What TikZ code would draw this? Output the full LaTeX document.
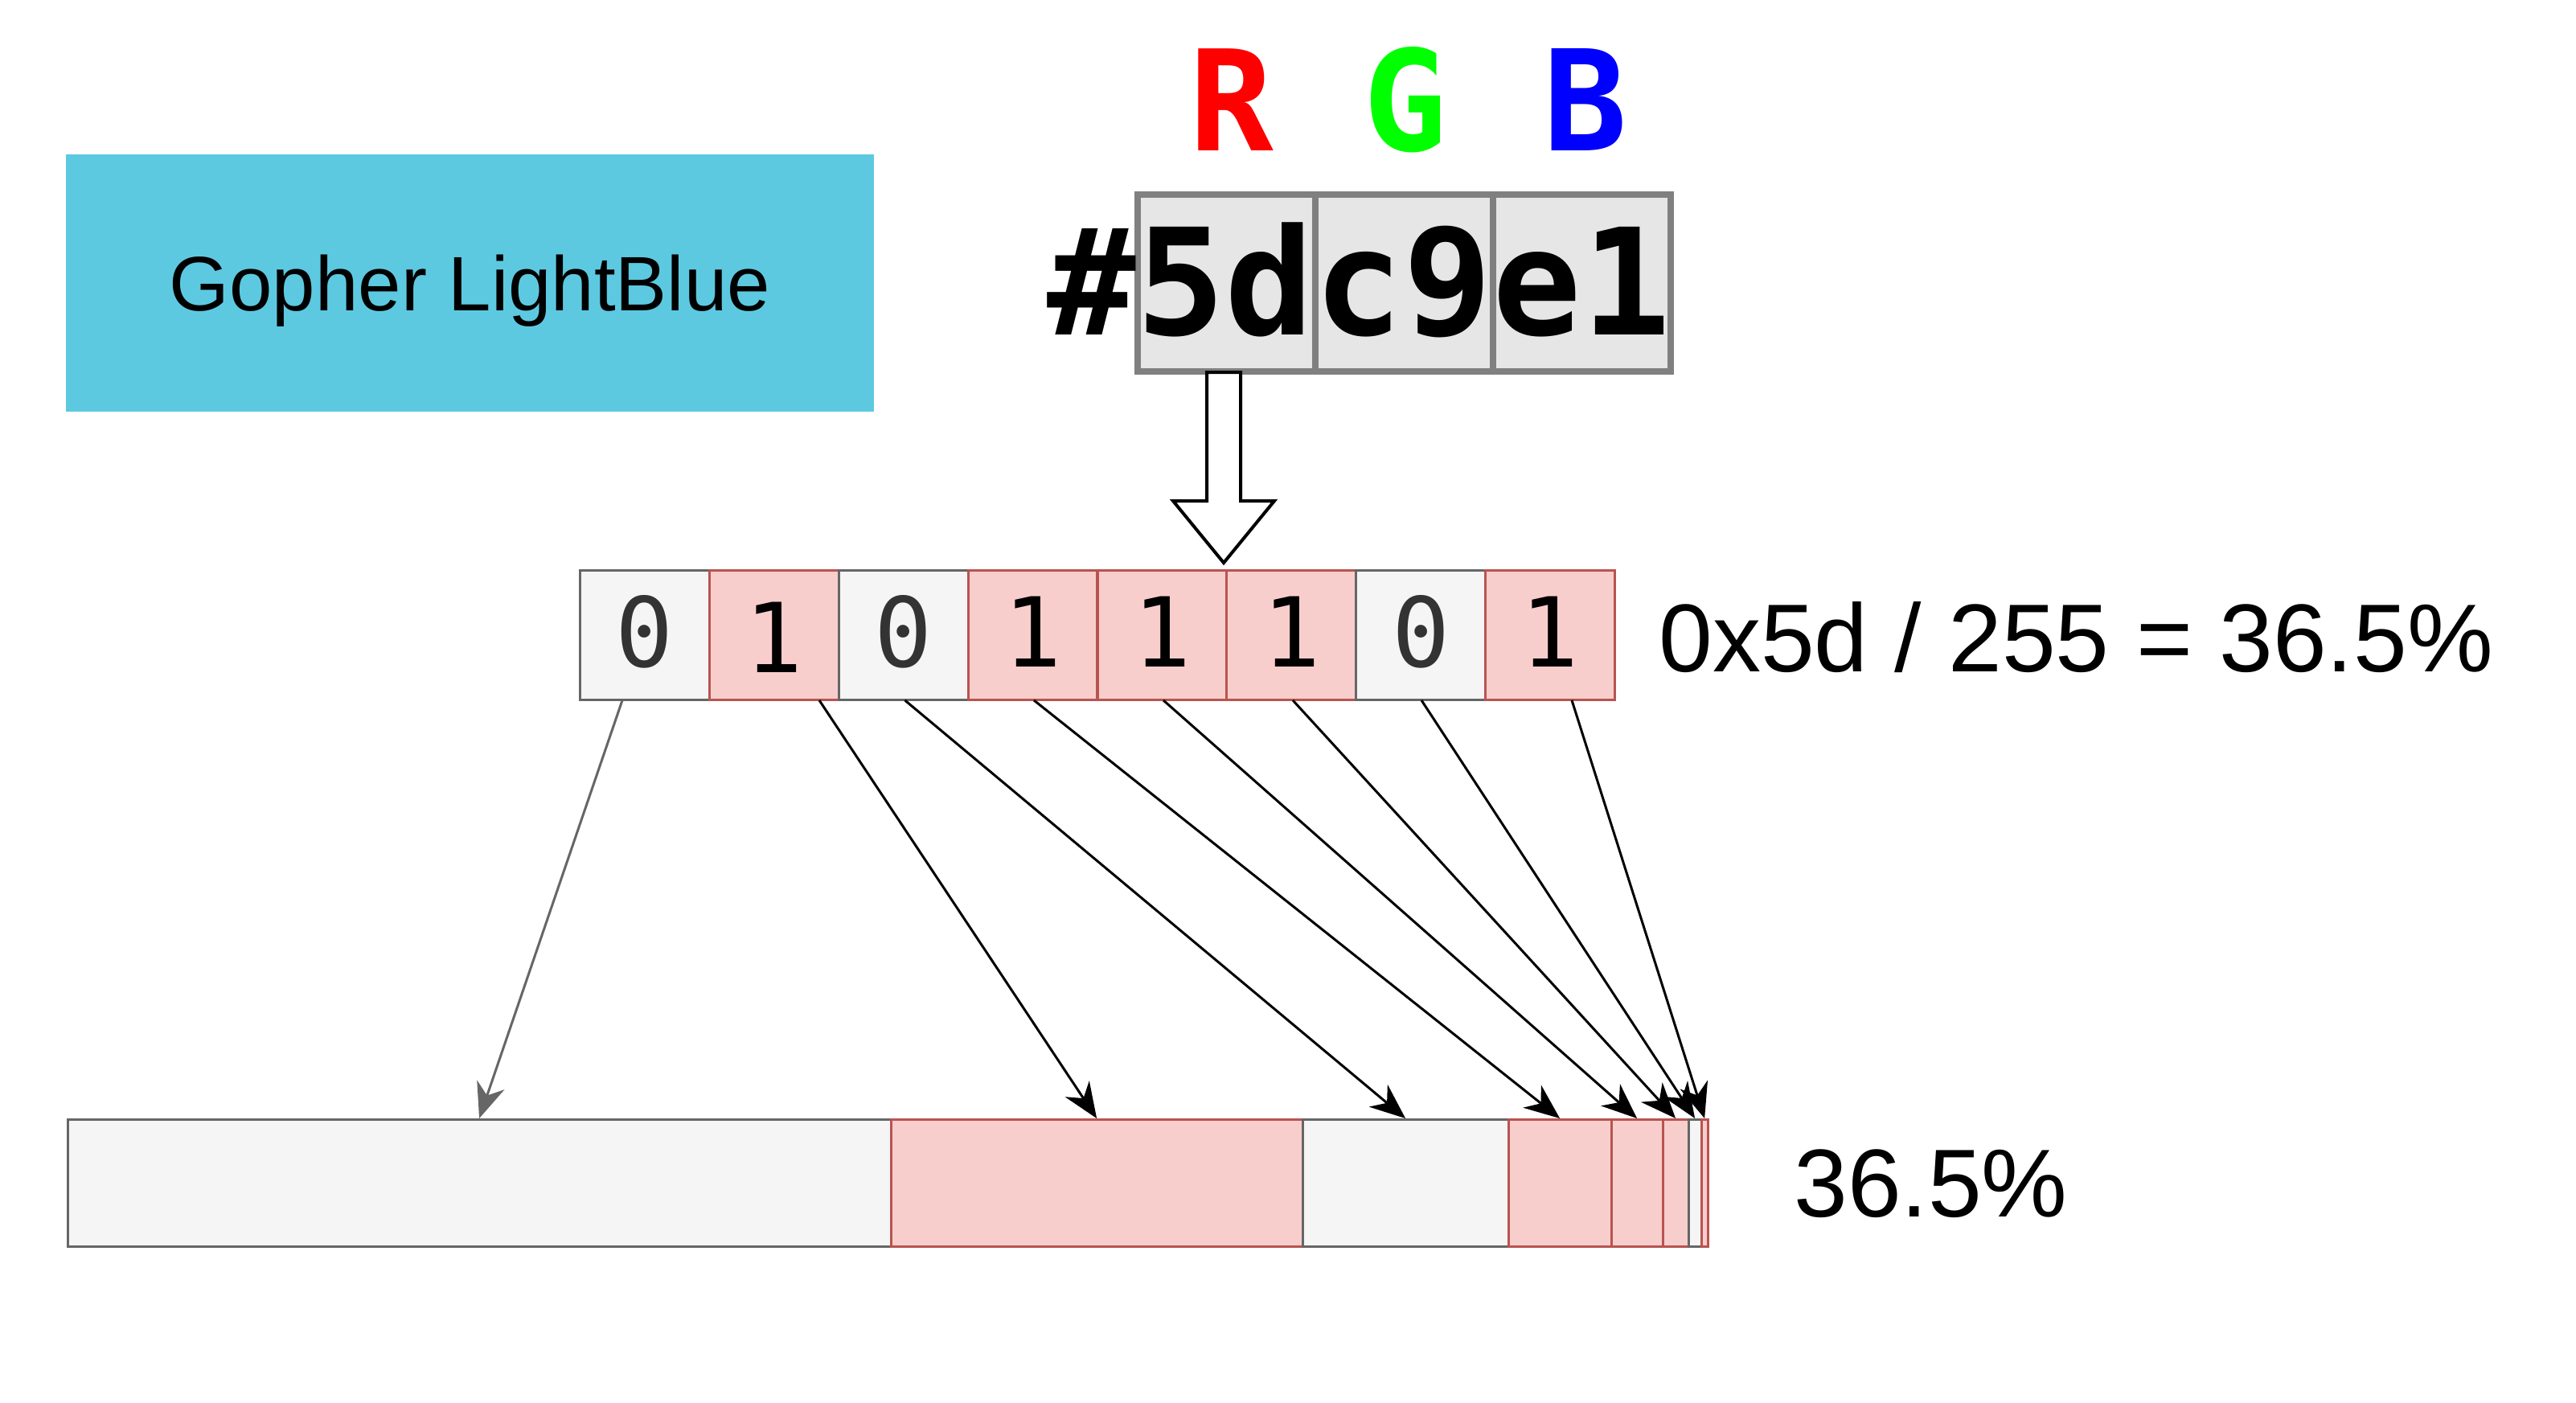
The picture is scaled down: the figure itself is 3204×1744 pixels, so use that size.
\documentclass[tikz,border=0pt]{standalone}
\usepackage{fontspec}
\setmainfont{Liberation Sans}
\newfontfamily\monofont{DejaVu Sans Mono}
\usetikzlibrary{arrows.meta}
\definecolor{gopher}{HTML}{5DC9E1}
\definecolor{hexfill}{HTML}{E6E6E6}
\definecolor{hexline}{HTML}{808080}
\definecolor{zfill}{HTML}{F5F5F5}
\definecolor{zline}{HTML}{666666}
\definecolor{ztext}{HTML}{333333}
\definecolor{ofill}{HTML}{F8CECC}
\definecolor{oline}{HTML}{B85450}
\definecolor{rr}{HTML}{FF0000}
\definecolor{gg}{HTML}{00FF00}
\definecolor{bb}{HTML}{0000FF}
\begin{document}
\begin{tikzpicture}[x=0.5pt,y=-0.5pt,
  hexbox/.style={draw=hexline,fill=hexfill,line width=4pt,minimum width=110.5pt,minimum height=110pt,inner sep=0pt,anchor=center},
  bitcell/.style={line width=1.6pt,minimum width=80.44pt,minimum height=80.5pt,inner sep=0pt,anchor=center},
  zerocell/.style={bitcell,draw=zline,fill=zfill},
  onecell/.style={bitcell,draw=oline,fill=ofill},
  bittext/.style={font=\monofont\fontsize{60pt}{60pt}\selectfont,inner sep=0pt,anchor=base},
  zerotext/.style={bittext,text=ztext},
  onetext/.style={bittext,text=black},
  seg/.style={line width=1.6pt,minimum height=79pt,inner sep=0pt,anchor=north west},
  zeroseg/.style={seg,draw=zline,fill=zfill},
  oneseg/.style={seg,draw=oline,fill=ofill},
  conn/.style={line width=1.5pt,black,-{Stealth[length=22pt,width=18pt,inset=7pt]}},
  rgbletter/.style={font=\monofont\bfseries\fontsize{87pt}{87pt}\selectfont,inner sep=0pt,anchor=base},
  biglabel/.style={font=\fontsize{60pt}{60pt}\selectfont,inner sep=0pt,anchor=base west}
]
\useasboundingbox (0,0) rectangle (3204,1744);
\fill[white] (0,0) rectangle (3204,1744);

% Gopher light blue swatch
\node[fill=gopher,minimum width=502.5pt,minimum height=160pt,inner sep=0pt,text depth=0pt,
      font=\fontsize{48pt}{48pt}\selectfont] (swatch) at (584.5,352) {Gopher LightBlue};

% RGB letters
\node[rgbletter,text=rr] (lr) at (1532,188) {R};
\node[rgbletter,text=gg] (lg) at (1748,188) {G};
\node[rgbletter,text=bb] (lb) at (1972,188) {B};

% hex boxes
\node[hexbox] (h1) at (1525.5,352) {};
\node[hexbox] (h2) at (1746.5,352) {};
\node[hexbox] (h3) at (1967.5,352) {};
\node[font=\monofont\bfseries\fontsize{92pt}{92pt}\selectfont,inner sep=0pt,anchor=base west] (hex) at (1302,416) {\#5dc9e1};

% big hollow arrow
\draw[line width=2pt,fill=white,line join=miter]
  (1501,463) -- (1543,463) -- (1543,623) -- (1585,623) -- (1522,700) -- (1459,623) -- (1501,623) -- cycle;

% bit cells
\node[zerocell] (b0) at (801.94,790) {};
\node[onecell]  (b1) at (962.81,790) {};
\node[zerocell] (b2) at (1123.69,790) {};
\node[onecell]  (b3) at (1284.56,790) {};
\node[onecell]  (b4) at (1445.44,790) {};
\node[onecell]  (b5) at (1606.31,790) {};
\node[zerocell] (b6) at (1767.19,790) {};
\node[onecell]  (b7) at (1928.06,790) {};

\node[zerotext] (t0) at (801.94,829) {0};
\node[onetext]  (t1) at (962.81,836) {1};
\node[zerotext] (t2) at (1123.69,829) {0};
\node[onetext]  (t3) at (1284.56,829) {1};
\node[onetext]  (t4) at (1445.44,829) {1};
\node[onetext]  (t5) at (1606.31,829) {1};
\node[zerotext] (t6) at (1767.19,829) {0};
\node[onetext]  (t7) at (1928.06,829) {1};

\node[biglabel] (ratio) at (2063,835) {0x5d / 255 = 36.5\%};

% bottom bar segments
\node[zeroseg,minimum width=512pt] (s0) at (82.5,1391) {};
\node[oneseg,minimum width=256pt]  (s1) at (1106.5,1391) {};
\node[zeroseg,minimum width=128pt] (s2) at (1618.5,1391) {};
\node[oneseg,minimum width=64pt]   (s3) at (1874.5,1391) {};
\node[oneseg,minimum width=32pt]   (s4) at (2002.5,1391) {};
\node[oneseg,minimum width=16pt]   (s5) at (2066.5,1391) {};
\node[zeroseg,minimum width=8pt]   (s6) at (2098.5,1391) {};
\node[oneseg,minimum width=4pt]    (s7) at (2114.5,1391) {};

\node[biglabel] (pct) at (2231,1513) {36.5\%};

% connector start points
\coordinate (c0) at (774,871);
\coordinate (c1) at (1019,871);
\coordinate (c2) at (1125.5,871);
\coordinate (c3) at (1286,871);
\coordinate (c4) at (1447,871);
\coordinate (c5) at (1608,871);
\coordinate (c6) at (1768,871);
\coordinate (c7) at (1955,871);

\draw[conn,draw=zline,fill=zline] (c0) -- (s0.north);
\draw[conn] (c1) -- (s1.north);
\draw[conn] (c2) -- (s2.north);
\draw[conn] (c3) -- (s3.north);
\draw[conn] (c4) -- (s4.north);
\draw[conn] (c5) -- (s5.north);
\draw[conn] (c6) -- (s6.north);
\draw[conn] (c7) -- (s7.north);
\end{tikzpicture}
\end{document}
